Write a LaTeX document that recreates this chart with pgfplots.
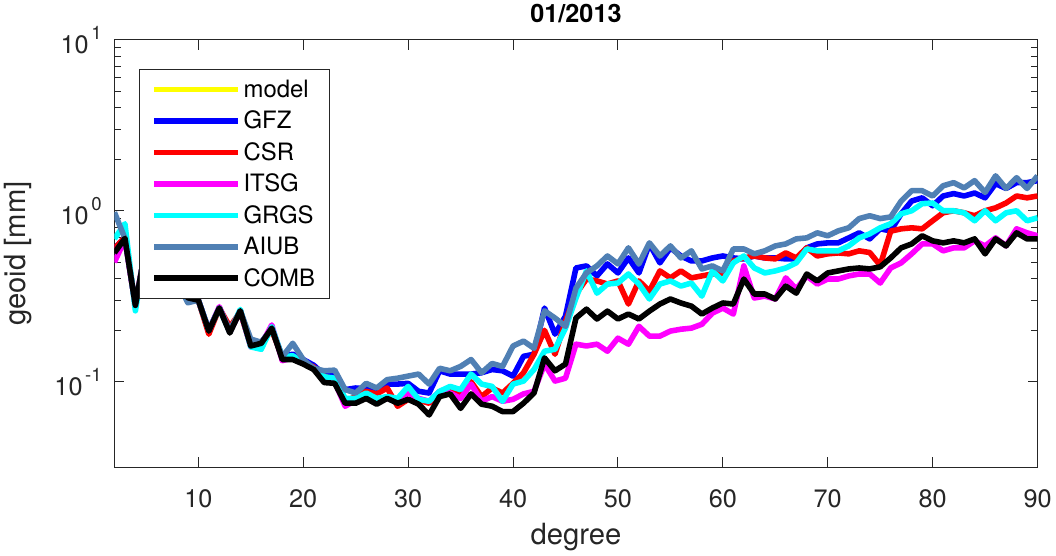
\documentclass[border=0pt]{standalone}
\usepackage{fontspec}
\setmainfont{TeX Gyre Heros}
\usepackage{pgfplots}
\usepackage{pgfplotstable}
\pgfplotsset{compat=1.18}

\definecolor{axisgray}{RGB}{38,38,38}
\definecolor{cmodel}{RGB}{255,255,0}
\definecolor{cgfz}{RGB}{0,0,255}
\definecolor{ccsr}{RGB}{255,0,0}
\definecolor{citsg}{RGB}{255,0,255}
\definecolor{cgrgs}{RGB}{0,255,255}
\definecolor{caiub}{RGB}{80,128,180}
\definecolor{ccomb}{RGB}{0,0,0}

% degree variances per centre, geoid height in mm
\pgfplotstableread{
deg GFZ CSR ITSG GRGS AIUB COMB
2 0.60 0.60 0.50 0.685 0.98 0.567
3 0.70 0.70 0.68 0.84 0.69 0.69
4 0.28 0.28 0.28 0.26 0.28 0.28
5 0.62 0.62 0.61 0.63 0.62 0.62
6 0.45 0.45 0.45 0.46 0.45 0.45
7 0.50 0.50 0.50 0.50 0.50 0.50
8 0.38 0.38 0.38 0.38 0.38 0.38
9 0.31 0.31 0.31 0.31 0.29 0.31
10 0.30 0.30 0.30 0.30 0.30 0.30
11 0.20 0.19 0.20 0.20 0.20 0.198
12 0.27 0.27 0.275 0.27 0.27 0.27
13 0.20 0.21 0.195 0.195 0.20 0.193
14 0.26 0.255 0.26 0.265 0.26 0.26
15 0.165 0.163 0.16 0.16 0.178 0.162
16 0.17 0.17 0.165 0.155 0.17 0.168
17 0.205 0.20 0.215 0.21 0.205 0.206
18 0.14 0.14 0.133 0.14 0.14 0.135
19 0.145 0.14 0.138 0.142 0.168 0.135
20 0.135 0.13 0.128 0.13 0.135 0.127
21 0.125 0.122 0.12 0.12 0.12 0.118
22 0.11 0.108 0.105 0.107 0.116 0.099
23 0.108 0.102 0.10 0.105 0.117 0.098
24 0.09 0.077 0.072 0.08 0.09 0.075
25 0.092 0.082 0.078 0.08 0.086 0.075
26 0.091 0.088 0.085 0.086 0.098 0.080
27 0.091 0.085 0.077 0.080 0.092 0.074
28 0.097 0.092 0.080 0.082 0.103 0.080
29 0.097 0.072 0.077 0.080 0.105 0.075
30 0.098 0.079 0.086 0.094 0.108 0.079
31 0.088 0.078 0.080 0.079 0.111 0.074
32 0.086 0.075 0.077 0.077 0.097 0.064
33 0.116 0.085 0.088 0.088 0.120 0.082
34 0.111 0.090 0.086 0.094 0.116 0.085
35 0.111 0.083 0.080 0.090 0.123 0.070
36 0.111 0.100 0.097 0.111 0.135 0.085
37 0.113 0.082 0.077 0.097 0.113 0.074
38 0.118 0.092 0.082 0.094 0.128 0.072
39 0.116 0.086 0.077 0.077 0.123 0.067
40 0.108 0.098 0.079 0.097 0.162 0.067
41 0.141 0.113 0.085 0.101 0.173 0.075
42 0.145 0.145 0.088 0.118 0.157 0.086
43 0.270 0.200 0.127 0.151 0.260 0.138
44 0.190 0.145 0.101 0.155 0.236 0.116
45 0.242 0.226 0.105 0.206 0.211 0.127
46 0.463 0.326 0.166 0.309 0.353 0.236
47 0.476 0.399 0.162 0.445 0.433 0.266
48 0.416 0.389 0.166 0.330 0.476 0.233
49 0.489 0.373 0.151 0.373 0.544 0.259
50 0.433 0.389 0.180 0.378 0.489 0.233
51 0.530 0.285 0.166 0.427 0.607 0.249
52 0.433 0.389 0.211 0.373 0.489 0.233
53 0.640 0.339 0.185 0.305 0.649 0.259
54 0.496 0.445 0.185 0.373 0.544 0.285
55 0.607 0.405 0.198 0.389 0.623 0.305
56 0.544 0.445 0.203 0.363 0.530 0.289
57 0.509 0.405 0.206 0.378 0.583 0.277
58 0.509 0.416 0.217 0.317 0.457 0.249
59 0.530 0.427 0.252 0.445 0.476 0.270
60 0.544 0.433 0.270 0.389 0.445 0.289
61 0.530 0.509 0.249 0.496 0.598 0.285
62 0.523 0.530 0.476 0.544 0.598 0.399
63 0.544 0.544 0.309 0.463 0.560 0.326
64 0.530 0.530 0.317 0.433 0.583 0.326
65 0.530 0.523 0.305 0.445 0.623 0.305
66 0.523 0.567 0.405 0.463 0.640 0.363
67 0.523 0.530 0.349 0.496 0.685 0.330
68 0.607 0.607 0.416 0.598 0.694 0.427
69 0.640 0.544 0.373 0.583 0.743 0.389
70 0.649 0.560 0.399 0.583 0.714 0.433
71 0.649 0.567 0.399 0.583 0.763 0.445
72 0.694 0.560 0.416 0.623 0.795 0.457
73 0.743 0.583 0.427 0.694 0.900 0.463
74 0.685 0.570 0.427 0.733 0.935 0.457
75 0.784 0.480 0.378 0.795 0.900 0.470
76 0.763 0.760 0.463 0.840 0.920 0.530
77 0.960 0.784 0.496 0.960 1.14 0.607
78 1.14 0.795 0.560 1.00 1.31 0.640
79 1.19 0.784 0.640 1.10 1.31 0.714
80 1.07 0.874 0.640 1.11 1.22 0.667
81 1.22 0.973 0.583 1.00 1.40 0.649
82 1.26 1.00 0.607 1.00 1.46 0.667
83 1.22 0.973 0.607 0.973 1.36 0.649
84 1.27 0.935 0.667 0.874 1.50 0.685
85 1.19 1.00 0.623 1.00 1.28 0.560
86 1.44 1.04 0.694 0.874 1.60 0.685
87 1.35 1.11 0.623 0.973 1.35 0.623
88 1.46 1.22 0.784 1.00 1.56 0.743
89 1.46 1.19 0.743 0.874 1.35 0.685
90 1.50 1.22 0.714 0.910 1.60 0.685
}\degvar

\newcommand{\supexp}[1]{10\hspace{2pt}\raisebox{0.55em}{\fontsize{14}{14}\selectfont #1}}

\begin{document}
\begin{tikzpicture}
\begin{axis}[
    scale only axis,
    width=695pt, height=322pt,
    xmin=2, xmax=90,
    ymode=log, ymin=0.0316, ymax=10,
    xtick={10,20,...,90},
    ytick={0.1,1,10},
    yticklabels={\supexp{-1},\supexp{0},\supexp{1}},
    /pgf/number format/assume math mode=true,
    tick label style={font=\fontsize{19}{22}\selectfont, color=axisgray},
    xticklabel style={yshift=-13pt},
    yticklabel style={xshift=-6pt},
    label style={font=\fontsize{22}{26}\selectfont, color=axisgray},
    xlabel={degree},
    xlabel style={yshift=-5pt},
    ylabel={geoid [mm]},
    ylabel style={yshift=10pt},
    title={01/2013},
    title style={font=\bfseries\fontsize{19}{22}\selectfont, yshift=3pt},
    axis line style={axisgray, line width=0.8pt},
    tick style={axisgray, line width=0.8pt},
    major tick length=7.5pt, minor tick length=5pt,
    legend style={at={(0.027,0.932)}, anchor=north west, draw=axisgray,
        line width=0.6pt, fill=white, font=\fontsize{18}{21}\selectfont,
        row sep=4.8pt, inner xsep=9pt, inner ysep=6pt},
    legend cell align=left,
    legend image code/.code={\draw[#1] (0pt,0pt) -- (63pt,0pt);},
    every axis plot/.append style={line width=4.2pt, line join=round},
]
\addlegendimage{cmodel, line width=4.2pt}
\addlegendentry{model}
\addplot[cgfz] table[x=deg, y=GFZ] {\degvar};
\addlegendentry{GFZ}
\addplot[ccsr] table[x=deg, y=CSR] {\degvar};
\addlegendentry{CSR}
\addplot[citsg] table[x=deg, y=ITSG] {\degvar};
\addlegendentry{ITSG}
\addplot[cgrgs] table[x=deg, y=GRGS] {\degvar};
\addlegendentry{GRGS}
\addplot[caiub] table[x=deg, y=AIUB] {\degvar};
\addlegendentry{AIUB}
\addplot[ccomb] table[x=deg, y=COMB] {\degvar};
\addlegendentry{COMB}
\end{axis}
\end{tikzpicture}
\end{document}
